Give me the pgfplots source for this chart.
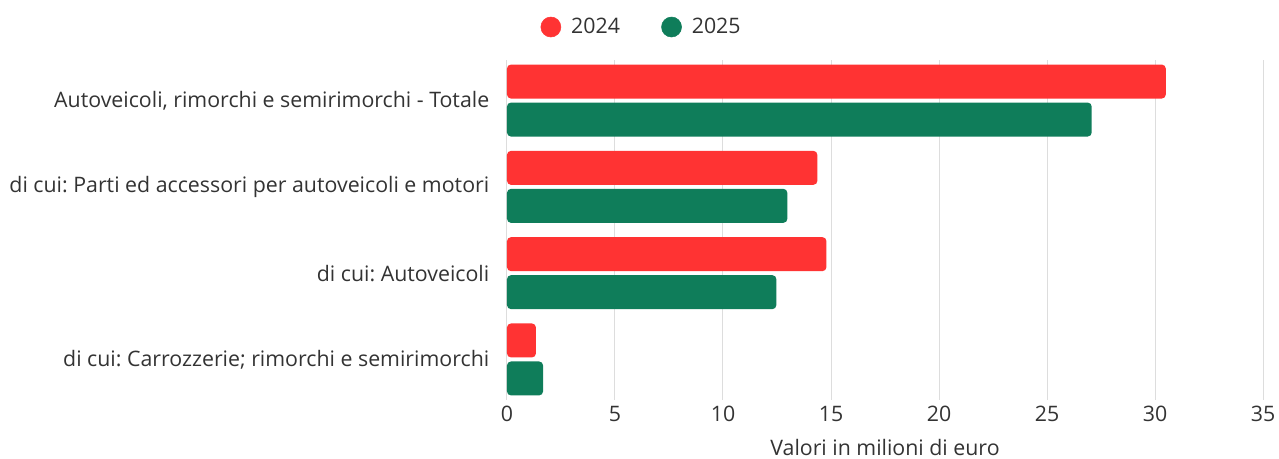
\documentclass[border=0pt]{standalone}
\usepackage{fontspec}
\setmainfont{Open Sans}
\usepackage{pgfplots}
\pgfplotsset{compat=1.18}
\definecolor{cred}{HTML}{FF3333}
\definecolor{cgreen}{HTML}{0F7D5A}
\definecolor{txt}{HTML}{333333}
\definecolor{grd}{HTML}{DDDDDD}
\frenchspacing
\begin{document}
\begin{tikzpicture}
\begin{axis}[name=ax, width=567pt, height=255pt, scale only axis,
 xmin=0, xmax=35, ymin=-0.47, ymax=3.47, y dir=reverse,
 xtick={0,5,...,35}, ytick={0,1,2,3},
 yticklabels={{Autoveicoli, rimorchi e semirimorchi - Totale},{di cui: Parti ed accessori per autoveicoli e motori},{di cui: Autoveicoli},{di cui: Carrozzerie; rimorchi e semirimorchi}},
 xbar, bar width=25.5pt,
 axis line style={draw=none}, tick style={draw=none},
 xmajorgrids, grid style={grd, line width=0.75pt},
 tick label style={font=\fontsize{16}{18}\selectfont, text=txt},
 y tick label style={anchor=east, xshift=-5.5pt},
 x tick label style={yshift=-1pt},
 /pgf/number format/assume math mode=true,
 xlabel={Valori in milioni di euro},
 every axis x label/.style={at={(axis description cs:0.5,0)}, anchor=center, yshift=-35.5pt, font=\fontsize{16}{18}\selectfont, text=txt},
 legend style={draw=none, fill=none, legend columns=2, at={(0.1785,1.097)}, anchor=center, font=\fontsize{16}{18}\selectfont, text=txt,
   /tikz/every even column/.append style={column sep=29pt}},
]
\addlegendimage{legend image code/.code={\fill[cred] (0pt,0pt) circle (7.5pt); \path (13pt,0pt);}}
\addlegendimage{legend image code/.code={\fill[cgreen] (0pt,0pt) circle (7.5pt); \path (13pt,0pt);}}
\addplot[fill=cred, draw=none, rounded corners=3pt, bar shift=14.25pt] coordinates {(30.5,0) (14.37,1) (14.79,2) (1.34,3)};
\addplot[fill=cgreen, draw=none, rounded corners=3pt, bar shift=-14.25pt] coordinates {(27.07,0) (12.98,1) (12.47,2) (1.67,3)};
\legend{2024,2025}
\end{axis}
\pgfresetboundingbox
\path[use as bounding box] ([shift={(-380.25pt,-44.25pt)}]ax.south west) rectangle ([shift={(12pt,45pt)}]ax.north east);
\end{tikzpicture}
\end{document}
